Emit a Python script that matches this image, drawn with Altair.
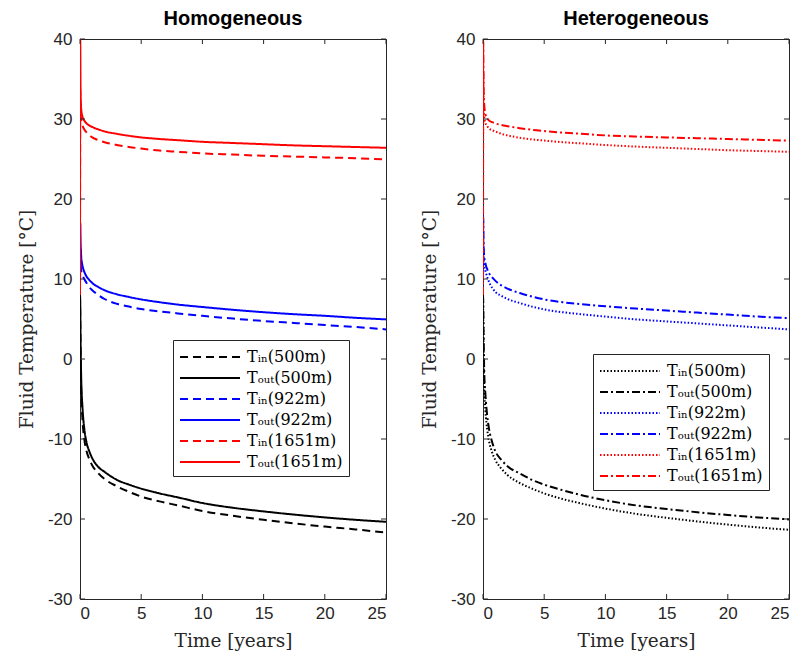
import altair as alt
import pandas as pd

# ---------------- data ----------------
TIME = [0, 0.02, 0.05, 0.1, 0.2, 0.35, 0.5, 0.75, 1, 1.5, 2, 3, 4, 5, 6.5, 8,
        10, 12.5, 15, 17.5, 20, 22.5, 25]

SERIES = ["Tᵢₙ(500m)", "Tₒᵤₜ(500m)", "Tᵢₙ(922m)", "Tₒᵤₜ(922m)",
          "Tᵢₙ(1651m)", "Tₒᵤₜ(1651m)"]
COLORS = ["#000000", "#000000", "#0000ff", "#0000ff", "#ff0000", "#ff0000"]

X_TICKS = [0, 5, 10, 15, 20, 25]
Y_TICKS = [-30, -20, -10, 0, 10, 20, 30, 40]

# Homogeneous
HOM_TIN_500 = [8, 5, 0, -4, -7.5, -10, -11.3, -12.5, -13.3, -14.3, -15, -15.9, -16.6,
               -17.2, -17.8, -18.3, -19.0, -19.6, -20.1, -20.55, -20.95, -21.3, -21.7]
HOM_TOUT_500 = [8, 7, 2, -2.5, -6, -8.7, -10.2, -11.5, -12.4, -13.5, -14.1, -15.1, -15.7,
                -16.2, -16.8, -17.3, -18.0, -18.6, -19.05, -19.45, -19.8, -20.1, -20.35]
HOM_TIN_922 = [8, 14, 12, 11, 10.5, 10.0, 9.6, 9.0, 8.6, 8.0, 7.5, 6.9, 6.55, 6.25,
               5.95, 5.7, 5.4, 5.05, 4.75, 4.5, 4.25, 4.0, 3.7]
HOM_TOUT_922 = [8, 17, 14.5, 12.8, 11.7, 10.9, 10.4, 9.9, 9.5, 9.0, 8.6, 8.1, 7.75, 7.45,
                7.1, 6.8, 6.5, 6.15, 5.85, 5.6, 5.4, 5.15, 4.95]
HOM_TIN_1651 = [8, 34, 30.5, 29.8, 29.2, 28.7, 28.4, 28.0, 27.7, 27.35, 27.1, 26.75, 26.5,
                26.3, 26.05, 25.9, 25.7, 25.55, 25.4, 25.3, 25.2, 25.1, 24.95]
HOM_TOUT_1651 = [8, 40, 33, 31.2, 30.3, 29.8, 29.5, 29.2, 29.0, 28.7, 28.45, 28.15, 27.9,
                 27.7, 27.5, 27.35, 27.15, 27.0, 26.85, 26.7, 26.6, 26.5, 26.4]

# Heterogeneous
HET_TIN_500 = [8, 5, 0, -3.5, -6.5, -8.9, -10.3, -11.7, -12.6, -13.7, -14.5, -15.5, -16.2,
               -16.8, -17.5, -18.05, -18.7, -19.35, -19.85, -20.3, -20.7, -21.05, -21.35]
HET_TOUT_500 = [8, 7, 3, -1.5, -4.5, -7.2, -8.8, -10.4, -11.5, -12.6, -13.4, -14.3, -15.1,
                -15.7, -16.4, -17.0, -17.65, -18.3, -18.75, -19.15, -19.5, -19.8, -20.05]
HET_TIN_922 = [8, 15, 12.5, 11.6, 11.0, 10.2, 9.6, 8.9, 8.4, 7.9, 7.5, 7.0, 6.55, 6.2,
               5.85, 5.6, 5.3, 4.95, 4.7, 4.45, 4.2, 3.95, 3.7]
HET_TOUT_922 = [8, 18, 14.5, 12.8, 11.9, 11.2, 10.7, 10.2, 9.8, 9.2, 8.8, 8.25, 7.8, 7.45,
                7.1, 6.85, 6.6, 6.3, 6.05, 5.8, 5.55, 5.3, 5.1]
HET_TIN_1651 = [8, 36, 31.5, 30.2, 29.5, 29.1, 28.8, 28.6, 28.45, 28.15, 27.95, 27.65, 27.45,
                27.3, 27.1, 26.95, 26.75, 26.55, 26.4, 26.25, 26.1, 26.0, 25.9]
HET_TOUT_1651 = [8, 40, 34, 31.8, 30.6, 30.1, 29.8, 29.6, 29.45, 29.25, 29.1, 28.85, 28.65,
                 28.5, 28.3, 28.15, 27.95, 27.8, 27.7, 27.6, 27.5, 27.4, 27.3]

HOM_DASH = [[8, 5], [1, 0], [8, 5], [1, 0], [8, 5], [1, 0]]
HET_DASH = [[1.5, 2], [8, 3, 2, 3], [1.5, 2], [8, 3, 2, 3], [1.5, 2], [8, 3, 2, 3]]

W, H = 306, 560
AX = "#262626"
SERIF = "DejaVu Serif"


def panel(title, values, dashes, lx, ly):
    rows = []
    for name, vals in zip(SERIES, values):
        for t, v in zip(TIME, vals):
            rows.append({"t": t, "T": v, "series": name})
    df = pd.DataFrame(rows)

    x_enc = alt.X("t:Q", scale=alt.Scale(domain=[0, 25], nice=False, zero=False),
                  axis=alt.Axis(values=X_TICKS, title="Time [years]", labelPadding=6,
                                titlePadding=10))
    y_enc = alt.Y("T:Q", scale=alt.Scale(domain=[-30, 40], nice=False, zero=False),
                  axis=alt.Axis(values=Y_TICKS, title="Fluid Temperature [°C]", titlePadding=11,
                                labelExpr="datum.value < 0 ? '-' + abs(datum.value) : '' + datum.value"))
    legend = alt.Legend(
        title=None, orient="none", legendX=lx, legendY=ly,
        fillColor="white", strokeColor=AX, padding=6, cornerRadius=0,
        symbolType="M-3,0H3", symbolSize=400, symbolStrokeWidth=2, symbolOffset=20,
        labelFont=SERIF, labelFontSize=16, labelColor="black",
        labelOffset=26, rowPadding=2,
    )
    lines = alt.Chart(df).mark_line(strokeWidth=2, interpolate="monotone", clip=True).encode(
        x=x_enc, y=y_enc,
        color=alt.Color("series:N", scale=alt.Scale(domain=SERIES, range=COLORS), legend=legend),
        strokeDash=alt.StrokeDash("series:N", scale=alt.Scale(domain=SERIES, range=dashes), legend=legend),
    )
    xt = pd.DataFrame({"t": X_TICKS})
    yt = pd.DataFrame({"T": Y_TICKS})
    tb = alt.Chart(xt).mark_rule(color=AX, strokeWidth=1).encode(
        x=x_enc, y=alt.value(H), y2=alt.value(H - 5))
    tt = alt.Chart(xt).mark_rule(color=AX, strokeWidth=1).encode(
        x=x_enc, y=alt.value(0), y2=alt.value(5))
    tl = alt.Chart(yt).mark_rule(color=AX, strokeWidth=1).encode(
        y=y_enc, x=alt.value(0), x2=alt.value(5))
    tr = alt.Chart(yt).mark_rule(color=AX, strokeWidth=1).encode(
        y=y_enc, x=alt.value(W), x2=alt.value(W - 5))
    return alt.layer(lines, tb, tt, tl, tr).properties(
        width=W, height=H, title=alt.TitleParams(title))


left = panel("Homogeneous",
             [HOM_TIN_500, HOM_TOUT_500, HOM_TIN_922, HOM_TOUT_922, HOM_TIN_1651, HOM_TOUT_1651],
             HOM_DASH, 93, 301)
right = panel("Heterogeneous",
              [HET_TIN_500, HET_TOUT_500, HET_TIN_922, HET_TOUT_922, HET_TIN_1651, HET_TOUT_1651],
              HET_DASH, 110, 315)

chart = alt.hconcat(left, right, spacing=32).resolve_scale(
    color="independent", strokeDash="independent"
).properties(
    padding={"left": 16, "top": 8, "right": 5, "bottom": 5}
).configure_view(
    stroke=AX, strokeWidth=1
).configure_axis(
    domain=False, ticks=False, grid=False,
    labelFont="Liberation Sans", labelFontSize=17, labelColor=AX, labelPadding=8,
    titleFont=SERIF, titleFontSize=18.5, titleFontWeight="normal", titleColor=AX,
).configure_title(
    font="Liberation Sans", fontSize=20, fontWeight="bold", color="black", anchor="middle", offset=1,
)

chart.save("out.html", embed_options={"renderer": "svg", "actions": False})
